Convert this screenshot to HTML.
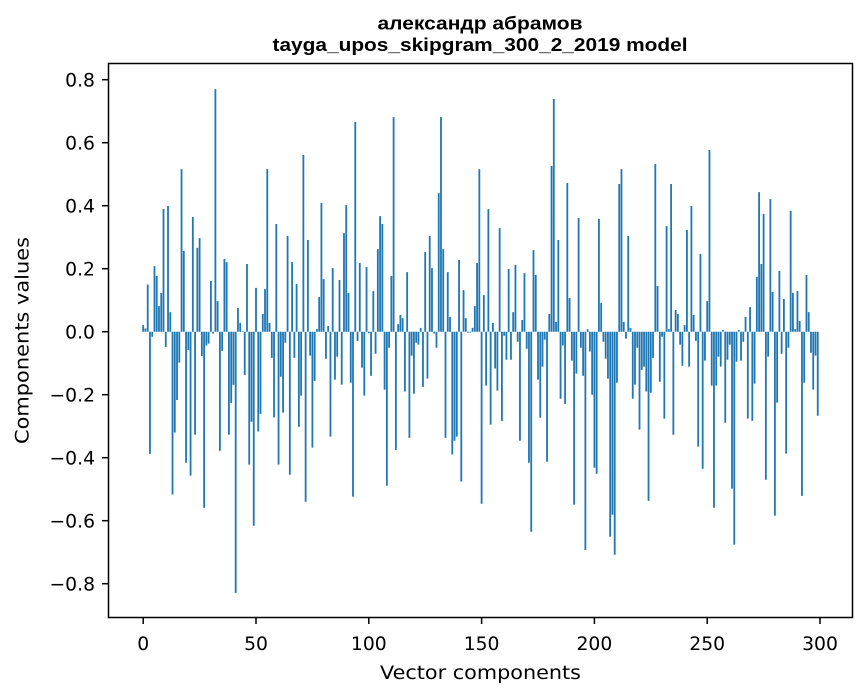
<!DOCTYPE html>
<html>
<head>
<meta charset="utf-8">
<style>
html,body{margin:0;padding:0;background:#fff;}
svg{display:block;}
.tk{font-family:"DejaVu Sans","Liberation Sans",sans-serif;font-size:18.75px;fill:#000;}
.tt{font-family:"Liberation Sans Narrow","Liberation Sans",sans-serif;font-weight:bold;font-size:18px;fill:#000;}
</style>
</head>
<body>
<svg width="867" height="696" viewBox="0 0 867 696" xmlns="http://www.w3.org/2000/svg">
<rect x="0" y="0" width="867" height="696" fill="#fff"/>
<g transform="translate(143.2,331.7) scale(2.256,-315)">
<path fill="#1f77b4" d="M-0.4 0
v.021h.8V0zm1 0v.010h.8V0zm1 0v.150h.8V0zm1 0v-.388h.8V0zm1 0v-.016h.8V0zm1 0v.208h.8V0zm1 0v.177h.8V0zm1 0v.081h.8V0zm1 0v.123h.8V0zm1 0v.389h.8V0zm1 0
v-.048h.8V0zm1 0v.399h.8V0zm1 0v.062h.8V0zm1 0v-.517h.8V0zm1 0v-.320h.8V0zm1 0v-.217h.8V0zm1 0v-.098h.8V0zm1 0v.516h.8V0zm1 0v.256h.8V0zm1 0v-.416h.8V0zm1 0
v-.058h.8V0zm1 0v-.457h.8V0zm1 0v.364h.8V0zm1 0v-.327h.8V0zm1 0v.266h.8V0zm1 0v.297h.8V0zm1 0v-.077h.8V0zm1 0v-.559h.8V0zm1 0v-.044h.8V0zm1 0v-.038h.8V0zm1 0
v.161h.8V0zm1 0v-.006h.8V0zm1 0v.770h.8V0zm1 0v.097h.8V0zm1 0v-.378h.8V0zm1 0v-.061h.8V0zm1 0v.231h.8V0zm1 0v.221h.8V0zm1 0v-.327h.8V0zm1 0v-.226h.8V0zm1 0
v-.169h.8V0zm1 0v-.829h.8V0zm1 0v.075h.8V0zm1 0v.028h.8V0zm1 0v.002h.8V0zm1 0v-.137h.8V0zm1 0v.215h.8V0zm1 0v-.422h.8V0zm1 0v-.286h.8V0zm1 0v-.616h.8V0zm1 0
v.139h.8V0zm1 0v-.317h.8V0zm1 0v-.261h.8V0zm1 0v.056h.8V0zm1 0v.135h.8V0zm1 0v.516h.8V0zm1 0v.028h.8V0zm1 0v-.083h.8V0zm1 0v-.272h.8V0zm1 0v.342h.8V0zm1 0
v-.422h.8V0zm1 0v-.143h.8V0zm1 0v-.257h.8V0zm1 0v-.035h.8V0zm1 0v.304h.8V0zm1 0v-.454h.8V0zm1 0v.221h.8V0zm1 0v-.083h.8V0zm1 0v.151h.8V0zm1 0v-.302h.8V0zm1 0
v-.203h.8V0zm1 0v.561h.8V0zm1 0v-.540h.8V0zm1 0v.291h.8V0zm1 0v-.076h.8V0zm1 0v-.368h.8V0zm1 0v-.156h.8V0zm1 0v.008h.8V0zm1 0v.110h.8V0zm1 0v.408h.8V0zm1 0
v.167h.8V0zm1 0v-.086h.8V0zm1 0v.018h.8V0zm1 0v-.333h.8V0zm1 0v.202h.8V0zm1 0v-.152h.8V0zm1 0v-.079h.8V0zm1 0v.164h.8V0zm1 0v-.168h.8V0zm1 0v.313h.8V0zm1 0
v.402h.8V0zm1 0v.123h.8V0zm1 0v-.162h.8V0zm1 0v-.524h.8V0zm1 0v.666h.8V0zm1 0v-.029h.8V0zm1 0v.218h.8V0zm1 0v-.114h.8V0zm1 0v-.203h.8V0zm1 0v.205h.8V0zm1 0
v-.005h.8V0zm1 0v-.140h.8V0zm1 0v.129h.8V0zm1 0v-.070h.8V0zm1 0v.262h.8V0zm1 0v.367h.8V0zm1 0v.342h.8V0zm1 0v-.184h.8V0zm1 0v-.489h.8V0zm1 0v-.051h.8V0zm1 0
v.177h.8V0zm1 0v.681h.8V0zm1 0v-.375h.8V0zm1 0v.024h.8V0zm1 0v.053h.8V0zm1 0v.043h.8V0zm1 0v-.190h.8V0zm1 0v.189h.8V0zm1 0v-.337h.8V0zm1 0v-.076h.8V0zm1 0
v-.197h.8V0zm1 0v-.035h.8V0zm1 0v-.041h.8V0zm1 0v.012h.8V0zm1 0v-.175h.8V0zm1 0v.253h.8V0zm1 0v-.149h.8V0zm1 0v.304h.8V0zm1 0v.202h.8V0zm1 0v-.006h.8V0zm1 0
v-.051h.8V0zm1 0v.440h.8V0zm1 0v.681h.8V0zm1 0v.262h.8V0zm1 0v-.337h.8V0zm1 0v.189h.8V0zm1 0v.047h.8V0zm1 0v-.390h.8V0zm1 0v-.346h.8V0zm1 0v-.333h.8V0zm1 0
v.228h.8V0zm1 0v-.476h.8V0zm1 0v.132h.8V0zm1 0v.043h.8V0zm1 0v-.003h.8V0zm1 0v-.003h.8V0zm1 0v.012h.8V0zm1 0v.081h.8V0zm1 0v.218h.8V0zm1 0v.516h.8V0zm1 0
v-.546h.8V0zm1 0v.116h.8V0zm1 0v-.171h.8V0zm1 0v.389h.8V0zm1 0v-.295h.8V0zm1 0v.028h.8V0zm1 0v-.117h.8V0zm1 0v-.187h.8V0zm1 0v.329h.8V0zm1 0v-.283h.8V0zm1 0
v-.013h.8V0zm1 0v-.089h.8V0zm1 0v.199h.8V0zm1 0v-.089h.8V0zm1 0v.062h.8V0zm1 0v.212h.8V0zm1 0v-.032h.8V0zm1 0v-.346h.8V0zm1 0v.037h.8V0zm1 0v.186h.8V0zm1 0
v-.054h.8V0zm1 0v-.416h.8V0zm1 0v-.635h.8V0zm1 0v.259h.8V0zm1 0v.180h.8V0zm1 0v-.152h.8V0zm1 0v-.273h.8V0zm1 0v-.111h.8V0zm1 0v-.025h.8V0zm1 0v-.413h.8V0zm1 0
v.056h.8V0zm1 0v.526h.8V0zm1 0v.739h.8V0zm1 0v.031h.8V0zm1 0v.291h.8V0zm1 0v-.213h.8V0zm1 0v-.044h.8V0zm1 0v-.229h.8V0zm1 0v.472h.8V0zm1 0v.107h.8V0zm1 0
v-.092h.8V0zm1 0v-.549h.8V0zm1 0v-.133h.8V0zm1 0v.361h.8V0zm1 0v-.051h.8V0zm1 0v-.140h.8V0zm1 0v-.693h.8V0zm1 0v.008h.8V0zm1 0v-.063h.8V0zm1 0v-.200h.8V0zm1 0
v-.432h.8V0zm1 0v-.451h.8V0zm1 0v.358h.8V0zm1 0v.091h.8V0zm1 0v-.032h.8V0zm1 0v-.086h.8V0zm1 0v-.149h.8V0zm1 0v-.651h.8V0zm1 0v-.581h.8V0zm1 0v-.708h.8V0zm1 0
v-.162h.8V0zm1 0v.469h.8V0zm1 0v.516h.8V0zm1 0v.031h.8V0zm1 0v-.022h.8V0zm1 0v.304h.8V0zm1 0v.012h.8V0zm1 0v-.213h.8V0zm1 0v-.168h.8V0zm1 0v-.051h.8V0zm1 0
v-.311h.8V0zm1 0v-.121h.8V0zm1 0v-.111h.8V0zm1 0v-.190h.8V0zm1 0v-.537h.8V0zm1 0v-.194h.8V0zm1 0v-.083h.8V0zm1 0v.532h.8V0zm1 0v.145h.8V0zm1 0v-.159h.8V0zm1 0
v-.016h.8V0zm1 0v-.276h.8V0zm1 0v.335h.8V0zm1 0v.008h.8V0zm1 0v.469h.8V0zm1 0v-.327h.8V0zm1 0v.069h.8V0zm1 0v.056h.8V0zm1 0v-.041h.8V0zm1 0v-.108h.8V0zm1 0
v.021h.8V0zm1 0v.323h.8V0zm1 0v-.111h.8V0zm1 0v.399h.8V0zm1 0v.053h.8V0zm1 0v-.029h.8V0zm1 0v-.365h.8V0zm1 0v.247h.8V0zm1 0v-.435h.8V0zm1 0v-.092h.8V0zm1 0
v.097h.8V0zm1 0v.577h.8V0zm1 0v-.171h.8V0zm1 0v-.559h.8V0zm1 0v-.171h.8V0zm1 0v-.079h.8V0zm1 0v-.111h.8V0zm1 0v.005h.8V0zm1 0v-.289h.8V0zm1 0v-.089h.8V0zm1 0
v-.041h.8V0zm1 0v-.498h.8V0zm1 0v-.676h.8V0zm1 0v-.095h.8V0zm1 0v.005h.8V0zm1 0v-.092h.8V0zm1 0v-.032h.8V0zm1 0v.047h.8V0zm1 0v-.276h.8V0zm1 0v.078h.8V0zm1 0
v-.283h.8V0zm1 0v-.165h.8V0zm1 0v.174h.8V0zm1 0v.443h.8V0zm1 0v.215h.8V0zm1 0v.374h.8V0zm1 0v-.470h.8V0zm1 0v-.079h.8V0zm1 0v.421h.8V0zm1 0v.126h.8V0zm1 0
v-.584h.8V0zm1 0v-.225h.8V0zm1 0v.193h.8V0zm1 0v-.070h.8V0zm1 0v.104h.8V0zm1 0v-.387h.8V0zm1 0v-.051h.8V0zm1 0v.383h.8V0zm1 0v.123h.8V0zm1 0v.008h.8V0zm1 0
v.129h.8V0zm1 0v.034h.8V0zm1 0v-.521h.8V0zm1 0v-.162h.8V0zm1 0v.180h.8V0zm1 0v.062h.8V0zm1 0v-.067h.8V0zm1 0v-.184h.8V0zm1 0v-.076h.8V0zm1 0v-.267h.8V0z"/>
</g>
<rect x="108.5" y="63.5" width="744" height="554" fill="none" stroke="#000" stroke-width="1.5"/>
<g stroke="#000" stroke-width="1.5">
<line x1="102" y1="79.7" x2="108.5" y2="79.7"/>
<line x1="102" y1="142.7" x2="108.5" y2="142.7"/>
<line x1="102" y1="205.7" x2="108.5" y2="205.7"/>
<line x1="102" y1="268.7" x2="108.5" y2="268.7"/>
<line x1="102" y1="331.7" x2="108.5" y2="331.7"/>
<line x1="102" y1="394.7" x2="108.5" y2="394.7"/>
<line x1="102" y1="457.7" x2="108.5" y2="457.7"/>
<line x1="102" y1="520.7" x2="108.5" y2="520.7"/>
<line x1="102" y1="583.7" x2="108.5" y2="583.7"/>
<line x1="143.2" y1="617.5" x2="143.2" y2="624"/>
<line x1="256" y1="617.5" x2="256" y2="624"/>
<line x1="368.8" y1="617.5" x2="368.8" y2="624"/>
<line x1="481.6" y1="617.5" x2="481.6" y2="624"/>
<line x1="594.4" y1="617.5" x2="594.4" y2="624"/>
<line x1="707.2" y1="617.5" x2="707.2" y2="624"/>
<line x1="820" y1="617.5" x2="820" y2="624"/>
</g>
<g class="tk" text-anchor="end">
<text x="95" y="86.5">0.8</text>
<text x="95" y="149.5">0.6</text>
<text x="95" y="212.5">0.4</text>
<text x="95" y="275.5">0.2</text>
<text x="95" y="338.5">0.0</text>
<text x="95" y="401.5">−0.2</text>
<text x="95" y="464.5">−0.4</text>
<text x="95" y="527.5">−0.6</text>
<text x="95" y="590.5">−0.8</text>
</g>
<g class="tk" text-anchor="middle">
<text x="143.2" y="650">0</text>
<text x="256" y="650">50</text>
<text x="368.8" y="650">100</text>
<text x="481.6" y="650">150</text>
<text x="594.4" y="650">200</text>
<text x="707.2" y="650">250</text>
<text x="820" y="650">300</text>
</g>
<text class="tk" x="480.5" y="679" text-anchor="middle" textLength="201" lengthAdjust="spacingAndGlyphs">Vector components</text>
<text class="tk" x="0" y="0" text-anchor="middle" transform="translate(28.5,340.5) rotate(-90)" textLength="207" lengthAdjust="spacingAndGlyphs">Components values</text>
<text class="tt" x="480" y="29.5" text-anchor="middle" textLength="205" lengthAdjust="spacingAndGlyphs">александр абрамов</text>
<text class="tt" x="480" y="50.8" text-anchor="middle" textLength="415" lengthAdjust="spacingAndGlyphs">tayga_upos_skipgram_300_2_2019 model</text>
</svg>
</body>
</html>
